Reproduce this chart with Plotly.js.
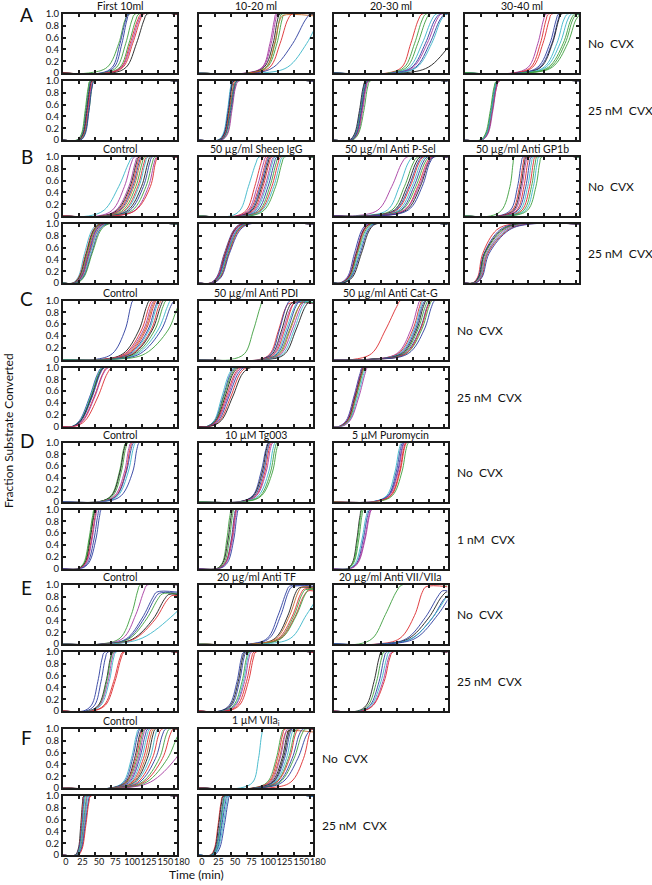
<!DOCTYPE html>
<html>
<head>
<meta charset="utf-8">
<script src="https://cdn.plot.ly/plotly-3.0.1.min.js"></script>
<style>
html, body { margin: 0; padding: 0; background: #fff; }
#plot { width: 652px; height: 885px; }
</style>
</head>
<body>
<div id="plot"></div>
<script>
// tick marks and labels
var X_TICKS = [0, 25, 50, 75, 100, 125, 150, 175];
var X_TICK_TEXT = ['0', '25', '50', '75', '100', '125', '150', '180'];
var Y_TICKS = [0, 0.2, 0.4, 0.6, 0.8, 1];
var Y_TICK_TEXT = ['0', '0.2', '0.4', '0.6', '0.8', '1.0'];

// each curve: [colour, time at 0, 0.1, 0.5, 0.9, 1.0 of its plateau, plateau (default 1)]
var LEVELS = [0, 0.1, 0.5, 0.9, 1];

var A_TITLES = ['First 10ml', '10-20 ml', '20-30 ml', '30-40 ml'];
var A1_NO = [['G',40,70,88,98,104],['B',60,78,90,99,103],['B',62,81,93,101,105],['G',65,85,99,109,114],
  ['G',68,90,104,115,120],['R',70,92,106,118,124],['M',70,93,108,120,126],['R',72,95,110,122,127],['K',78,100,116,128,133]];
var A1_CVX = [['G',22,29,35,40,43],['G',23,30,36,41,44],['B',24,31,37,42,45],['K',25,32,38,43,46],
  ['R',26,33,39,44,47],['M',27,34,40,45,48],['G',27,34,41,46,49],['B',28,35,41,46,50]];
var A2_NO = [['M',75,100,112,119,122],['M',76,101,114,121,124],['K',78,103,117,124,128],['G',80,106,120,127,131],
  ['G',82,108,123,131,135],['O',80,106,119,127,132,0.97],['R',85,112,128,140,147],['B',90,118,148,168,176],['C',100,140,170,190,198]];
var A2_CVX = [['C',30,38,45,50,53],['B',31,39,46,51,54],['K',32,40,47,52,55],['R',33,41,48,54,57],
  ['G',34,42,49,55,59],['G',35,44,51,57,61],['M',36,45,52,58,63],['B',34,42,50,56,60]];
var A3_NO = [['R',85,108,122,134,140],['G',88,112,128,140,146],['G',90,116,133,146,152],['C',92,120,140,155,162],
  ['B',95,124,145,160,168],['M',96,126,148,163,170],['B',98,130,152,168,176],['C',100,132,155,170,178],['K',110,150,186,215,225]];
var A3_CVX = [['K',25,33,41,47,51],['B',26,34,42,48,52],['G',27,35,43,49,53],['C',27,36,44,50,54],
  ['R',28,37,45,51,55],['M',29,38,46,52,56],['G',30,39,48,54,58],['B',28,36,44,50,54]];
var A4_NO = [['M',75,100,115,124,128],['R',78,104,119,128,132],['R',80,107,123,133,137],['B',85,115,134,144,148],
  ['B',86,118,137,147,151],['K',88,120,138,148,152],['C',90,125,145,156,162],['C',92,128,150,162,168],
  ['G',95,132,155,167,173],['G',96,135,158,170,176],['G',98,138,162,175,182]];
var A4_CVX = [['G',24,32,40,46,50],['G',25,33,41,47,51],['B',26,34,42,48,52],['K',26,35,43,49,53],
  ['R',27,35,43,50,54],['M',27,36,44,50,54],['C',26,34,42,48,52]];

var B_TITLES = ['Control', '50 µg/ml Sheep IgG', '50 µg/ml Anti P-Sel', '50 µg/ml Anti GP1b'];
var B1_NO = [['C',40,65,88,104,110],['M',55,78,97,108,113],['M',60,84,104,114,118],['K',62,86,106,116,120],
  ['R',64,88,108,118,122],['B',65,90,110,120,124],['O',66,92,112,122,126],['G',68,95,115,125,129],
  ['R',70,98,118,128,132],['C',72,100,120,130,134],['K',74,103,124,134,138],['B',76,106,127,137,141],
  ['G',78,110,131,141,145],['M',80,114,135,144,148],['R',80,115,138,146,150]];
var B1_CVX = [['C',15,24,34,46,56],['R',16,25,36,48,58],['K',17,26,37,49,60],['G',17,27,38,50,61],
  ['O',18,28,39,51,62],['M',18,28,40,52,63],['B',19,29,41,53,64],['R',20,30,42,55,66],
  ['C',20,31,43,56,68],['B',21,32,45,58,70],['G',22,33,46,60,72]];
var B2_NO = [['C',50,65,78,90,95],['R',58,75,88,98,102],['M',60,78,92,102,106],['R',62,80,95,105,109],
  ['B',63,82,97,107,111],['K',65,84,99,109,113],['R',66,86,101,111,115],['M',68,88,104,114,118],
  ['C',70,90,106,116,120],['B',72,93,109,119,123],['G',74,96,112,122,126],['R',76,98,115,125,129],
  ['C',78,100,118,128,132],['G',80,103,121,131,135]];
var B2_CVX = [['B',18,28,40,55,66],['R',18,29,41,56,68],['K',19,30,42,57,70],['M',19,30,43,58,72],
  ['B',20,31,44,60,74],['C',20,32,45,61,75],['G',21,33,46,62,76],['R',21,34,47,63,78],['B',22,35,48,65,80]];
var B3_NO = [['M',30,70,92,108,116],['C',40,85,104,118,126],['G',45,92,112,126,133],['K',48,96,116,130,137],
  ['B',50,98,119,133,140],['R',50,100,121,135,142],['C',52,103,124,138,145],['B',55,106,127,141,148],
  ['G',55,108,130,144,151],['R',58,112,133,147,154],['K',60,115,137,150,157],['M',60,112,135,149,156],
  ['B',62,118,140,152,159]];
var B3_CVX = [['B',10,22,33,45,54],['M',11,23,35,47,56],['K',12,24,36,48,58],['R',12,25,37,49,59],
  ['G',13,26,38,51,61],['C',14,27,40,53,63],['B',15,28,42,55,65],['K',16,30,44,57,67]];
var B4_NO = [['G',40,58,71,76,78],['B',52,72,83,89,92],['R',55,75,86,92,95],['K',56,77,88,94,97],
  ['M',58,79,90,96,99],['R',60,82,93,99,102],['B',62,84,96,102,105],['C',64,87,99,105,108],
  ['R',66,90,102,108,111],['G',68,93,105,111,114],['C',70,96,108,114,117],['G',72,99,112,118,121]];
var B4_CVX = [['R',12,20,28,50,75],['B',13,21,30,55,80],['K',13,22,31,58,85],['G',14,23,32,60,88],
  ['M',15,24,34,63,92],['C',15,25,35,66,96],['R',16,26,36,68,100],['B',17,27,38,70,104]];

var C_TITLES = ['Control', '50 µg/ml Anti PDI', '50 µg/ml Anti Cat-G'];
var C1_NO = [['B',50,78,98,107,111],['K',60,95,120,132,137],['R',62,98,124,136,141],['M',64,100,127,139,144],
  ['O',65,102,129,141,146],['R',66,104,131,143,148],['B',68,106,134,146,151],['C',70,108,136,148,153],
  ['R',72,110,139,151,156],['K',74,112,141,154,159],['G',75,115,145,158,163],['C',78,118,150,165,170],
  ['B',80,122,155,170,176],['G',85,130,166,182,190]];
var C1_CVX = [['B',14,26,42,55,62],['C',14,27,43,56,63],['G',15,28,44,57,64],['K',15,28,45,58,65],
  ['B',16,29,46,59,66],['R',17,31,49,63,70],['M',17,32,50,64,72],['R',19,35,55,70,78]];
var C2_NO = [['G',50,72,86,97,101],['R',95,112,125,136,142,0.95],['B',96,114,127,138,144],['K',98,116,130,141,147,0.96],
  ['M',100,118,132,144,150,0.95],['R',100,120,135,147,153],['C',102,122,137,150,156,0.97],['B',104,124,140,153,160],
  ['G',105,126,142,156,163,0.96],['O',106,128,144,158,165],['M',108,130,147,161,168],['C',110,133,150,164,172],
  ['K',112,136,153,168,176]];
var C2_CVX = [['C',12,24,36,48,56],['B',12,25,38,50,58],['G',13,26,39,52,60],['K',14,27,41,54,63],
  ['R',15,28,43,57,66],['M',15,29,45,59,69],['B',16,31,47,62,72],['R',17,33,50,65,76],['K',18,35,53,69,82]];
var C3_NO = [['R',30,60,82,100,106],['M',50,100,122,133,137],['R',52,102,125,136,140],['C',54,104,127,138,142],
  ['B',55,106,129,140,145],['K',56,108,131,142,147],['G',57,110,133,145,150],['B',58,112,136,148,153],
  ['G',60,115,139,151,156],['R',60,114,137,149,154],['B',62,118,143,155,160]];
var C3_CVX = [['B',8,20,32,42,46],['M',9,21,33,43,47],['K',10,22,34,44,48],['R',10,23,35,45,49],
  ['G',11,24,36,46,50],['C',12,25,38,48,52],['M',13,26,40,50,54]];

var D_TITLES = ['Control', '10 µM Tg003', '5 µM Puromycin'];
var D1_NO = [['G',58,76,89,96,100],['K',58,77,90,97,101],['G',60,79,92,99,103],['M',62,82,97,104,108],
  ['R',63,84,99,106,110],['B',64,85,100,108,112],['C',65,87,103,111,115],['B',68,92,110,117,121]];
var D1_CVX = [['G',24,33,41,47,50],['G',25,34,42,48,51],['K',25,35,43,49,52],['R',26,36,45,51,54],
  ['M',27,37,46,52,55],['B',28,39,49,55,58],['B',29,41,52,58,61]];
var D2_NO = [['B',65,85,98,106,110],['K',66,86,100,107,111],['B',68,88,102,109,113],['R',69,90,104,111,115],
  ['M',70,91,106,113,117],['C',72,94,110,117,121],['G',74,97,113,120,124],['G',76,99,116,123,127]];
var D2_CVX = [['G',28,37,44,49,52],['K',29,38,46,51,54],['G',30,40,48,53,56],['B',31,42,51,56,59],
  ['R',31,42,52,57,60],['M',32,43,53,58,61],['B',33,45,55,60,63]];
var D3_NO = [['C',63,84,97,104,108],['B',64,86,99,106,110],['B',65,87,101,108,112],['M',66,88,102,109,113],
  ['R',67,90,104,111,115],['R',68,91,105,112,116],['G',70,93,108,115,119]];
var D3_CVX = [['K',22,30,37,42,45],['G',22,31,38,43,46],['G',23,32,40,45,48],['C',25,35,45,52,56],
  ['B',26,37,47,54,58],['M',27,38,49,56,60],['M',28,39,50,57,61]];

var E_TITLES = ['Control', '20 µg/ml Anti TF', '20 µg/ml Anti VII/VIIa'];
var E1_NO = [['G',60,90,108,118,122],['M',62,95,115,128,133],['B',65,100,125,142,148,0.88],['B',66,102,128,145,152,0.86],
  ['G',68,104,132,150,157,0.85],['K',70,110,142,160,167,0.84],['R',72,112,145,164,172,0.82],['C',75,125,175,210,220]];
var E1_CVX = [['B',32,45,55,62,66],['B',36,50,60,67,71],['K',40,56,68,75,79],['G',41,57,69,76,80],
  ['M',42,58,71,78,82],['C',43,60,73,80,84],['R',46,65,80,90,95],['R',47,67,82,92,97]];
var E2_NO = [['B',80,108,125,138,143,0.98],['B',82,111,129,141,147,0.97],['K',88,120,140,152,158,0.95],
  ['R',90,125,147,160,166,0.93],['G',90,127,149,162,168,0.92],['R',92,128,151,165,172,0.9],
  ['G',93,130,153,168,175,0.94],['O',88,122,143,156,162,0.96],['C',100,145,170,195,205]];
var E2_CVX = [['B',33,48,60,67,71],['K',34,50,62,69,73],['B',36,52,64,71,75],['G',38,55,68,75,79],
  ['C',40,57,70,77,81],['M',41,58,72,79,83],['R',43,61,75,83,87],['R',45,64,78,86,90]];
var E3_NO = [['G',40,62,82,100,108],['R',70,105,128,140,146,0.97],['B',75,115,145,165,172,0.9],
  ['K',78,118,150,170,178,0.88],['B',80,122,155,175,185,0.85],['C',82,125,160,185,195],['B',85,130,165,190,200]];
var E3_CVX = [['K',38,52,64,72,76],['G',40,55,68,76,80],['B',42,58,72,80,84],['C',44,60,75,84,88],
  ['M',45,62,78,87,92],['R',46,63,80,89,94]];

var F_TITLES = ['Control', '1 µM VIIa<sub>i</sub>'];
var F1_NO = [['C',75,95,108,116,120],['B',76,97,110,118,122],['K',77,99,113,121,125],['R',78,100,115,123,127],
  ['G',78,101,117,125,129],['M',79,103,119,127,131],['B',80,105,121,130,134],['C',81,107,124,133,137],
  ['R',82,109,127,136,140],['O',83,111,130,139,143],['K',84,113,133,142,146],['C',85,115,137,146,150],
  ['R',86,118,141,151,156],['B',87,121,146,157,162],['G',88,125,152,163,168],['R',89,128,157,169,174],
  ['G',90,132,165,182,190],['M',92,138,178,200,210]];
var F1_CVX = [['K',19,24,28,31,33],['R',20,25,29,32,34],['B',20,25,30,33,35],['C',21,26,31,34,36],
  ['G',21,27,32,36,38],['M',22,28,33,37,39],['C',22,28,34,38,41],['B',23,29,35,40,43],['R',24,30,36,41,44]];
var F2_NO = [['C',65,85,94,99,102],['G',85,108,122,130,134],['R',86,110,124,132,136],['O',87,111,126,134,138,0.95],
  ['M',88,113,128,136,140],['K',89,115,131,139,143],['K',90,117,133,141,145],['B',90,118,135,143,147],
  ['C',91,120,138,146,150],['G',92,122,141,150,154],['R',92,123,143,152,157],['B',93,126,147,158,164],
  ['G',94,128,150,162,168],['B',95,132,156,170,178],['R',110,145,165,174,178]];
var F2_CVX = [['R',18,24,30,35,38],['K',19,25,31,36,39],['B',20,26,33,38,41],['G',20,27,34,39,42],
  ['C',21,28,35,40,43],['B',22,29,36,42,45],['C',23,30,38,44,47],['B',24,32,40,46,49]];

var COLORS = {B: '#2b3c9e', G: '#3d9e3d', R: '#dd2a2e', C: '#3ab6c8', M: '#a63aa0', K: '#1c1c1c', O: '#c2692a'};

var BLOCKS = [
  {letter: 'A', titles: A_TITLES, no: [A1_NO, A2_NO, A3_NO, A4_NO], cvx: [A1_CVX, A2_CVX, A3_CVX, A4_CVX], dose: '25 nM\u00a0 CVX', top: 14, ly: 14},
  {letter: 'B', titles: B_TITLES, no: [B1_NO, B2_NO, B3_NO, B4_NO], cvx: [B1_CVX, B2_CVX, B3_CVX, B4_CVX], dose: '25 nM\u00a0 CVX', top: 157, ly: 156},
  {letter: 'C', titles: C_TITLES, no: [C1_NO, C2_NO, C3_NO], cvx: [C1_CVX, C2_CVX, C3_CVX], dose: '25 nM\u00a0 CVX', top: 300.5, ly: 299},
  {letter: 'D', titles: D_TITLES, no: [D1_NO, D2_NO, D3_NO], cvx: [D1_CVX, D2_CVX, D3_CVX], dose: '1 nM\u00a0 CVX', top: 442.5, ly: 440},
  {letter: 'E', titles: E_TITLES, no: [E1_NO, E2_NO, E3_NO], cvx: [E1_CVX, E2_CVX, E3_CVX], dose: '25 nM\u00a0 CVX', top: 585, ly: 587},
  {letter: 'F', titles: F_TITLES, no: [F1_NO, F2_NO], cvx: [F1_CVX, F2_CVX], dose: '25 nM\u00a0 CVX', top: 729, ly: 737}
];

var W = 652, H = 885;
var COL_LEFT = [63, 199, 333.5, 465];
var PW = 114, PH = 59, ROW_STEP = 67;
var FONT = 'Lato, "Open Sans", Arial, sans-serif';

var traces = [];
var layout = {
  width: W, height: H,
  margin: {l: 0, r: 0, t: 0, b: 0},
  paper_bgcolor: '#ffffff', plot_bgcolor: 'rgba(0,0,0,0)',
  showlegend: false,
  font: {family: FONT, size: 10, color: '#111'},
  annotations: []
};

function ann(text, x, y, size, opts) {
  var a = {text: text, x: x / W, y: 1 - y / H, xref: 'paper', yref: 'paper', showarrow: false,
    font: {family: FONT, size: size, color: '#111'}, xanchor: 'center', yanchor: 'middle'};
  for (var k in opts) a[k] = opts[k];
  layout.annotations.push(a);
}

var n = 0, labelAxis = 100;
function addPanel(curves, left, top, showY, showX) {
  n += 1;
  var xa = n === 1 ? 'x' : 'x' + n, ya = n === 1 ? 'y' : 'y' + n;
  layout['xaxis' + (n === 1 ? '' : n)] = {
    domain: [left / W, (left + PW) / W], anchor: ya, range: [0, 180],
    tickvals: X_TICKS, showticklabels: false,
    ticks: 'inside', ticklen: 3, tickwidth: 2, tickcolor: '#1c1c1c',
    showline: true, linewidth: 2, linecolor: '#1c1c1c', mirror: 'ticks',
    showgrid: false, zeroline: false, fixedrange: true
  };
  layout['yaxis' + (n === 1 ? '' : n)] = {
    domain: [1 - (top + PH) / H, 1 - top / H], anchor: xa, range: [0, 1],
    tickvals: Y_TICKS, ticktext: Y_TICK_TEXT, showticklabels: showY,
    ticks: 'inside', ticklen: 3, tickwidth: 2, tickcolor: '#1c1c1c',
    showline: true, linewidth: 2, linecolor: '#1c1c1c', mirror: 'ticks',
    showgrid: false, zeroline: false, fixedrange: true,
    tickfont: {family: FONT, size: 9.5, color: '#111'}
  };
  curves.forEach(function (c) {
    var p = c.length > 6 ? c[6] : 1;
    var xs = [0].concat(c.slice(1, 6));
    var ys = [0].concat(LEVELS.map(function (v) { return v * p; }));
    if (c[5] < 180) { xs.push(180); ys.push(p); }
    traces.push({
      x: xs, y: ys, xaxis: xa, yaxis: ya, type: 'scatter', mode: 'lines',
      line: {color: COLORS[c[0]], width: 0.9, shape: 'spline', smoothing: 1},
      hoverinfo: 'skip', showlegend: false
    });
  });
  if (showX) {
    // time labels are spread a little wider than the frame, as in the original figure
    labelAxis += 1;
    layout['xaxis' + labelAxis] = {
      domain: [(left + 2.7) / W, (left + 119) / W], anchor: ya, range: [-0.01, 7.01],
      tickvals: [0, 1, 2, 3, 4, 5, 6, 7], ticktext: X_TICK_TEXT, tickangle: 0,
      ticks: '', showline: false, showgrid: false, zeroline: false, fixedrange: true,
      tickfont: {family: FONT, size: 9, color: '#111'}
    };
    traces.push({x: [null], y: [null], xaxis: 'x' + labelAxis, yaxis: ya, type: 'scatter',
      mode: 'lines', hoverinfo: 'skip', showlegend: false});
  }
}

BLOCKS.forEach(function (b, bi) {
  var ncol = b.no.length;
  var last = bi === BLOCKS.length - 1;
  for (var j = 0; j < ncol; j++) {
    var left = COL_LEFT[j];
    addPanel(b.no[j], left, b.top, j === 0, false);
    addPanel(b.cvx[j], left, b.top + ROW_STEP, j === 0, last);
    ann(b.titles[j], left + PW / 2, b.top - 8, 10.5, {});
  }
  var rx = COL_LEFT[ncol - 1] + PW + 7;
  ann('No\u00a0 CVX', rx, b.top + PH / 2, 12, {xanchor: 'left'});
  ann(b.dose, rx, b.top + ROW_STEP + PH / 2, 12, {xanchor: 'left'});
  ann(b.letter, 27, b.ly, 19, {});
});

ann('Fraction Substrate Converted', 8, 431, 12, {textangle: -90});
ann('Time (min)', 197, 874, 12, {});

Plotly.newPlot('plot', traces, layout, {displayModeBar: false, staticPlot: true});
</script>
</body>
</html>
